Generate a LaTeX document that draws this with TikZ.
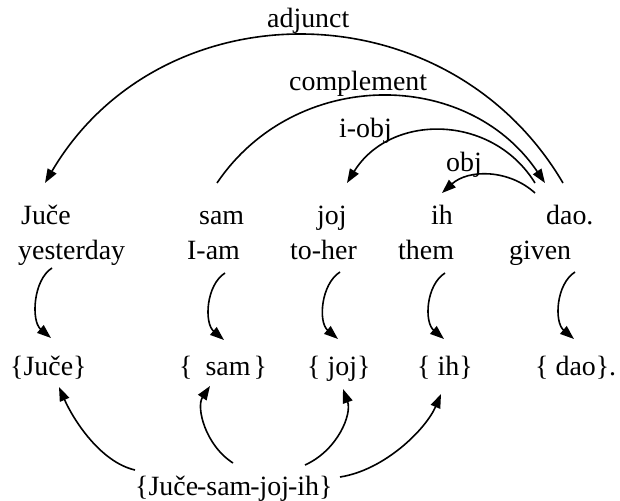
\documentclass[tikz,border=0pt]{standalone}
\usepackage{fontspec}
\setmainfont{Liberation Serif}
\usetikzlibrary{arrows.meta}
\begin{document}
\begin{tikzpicture}[x=1bp,y=-1bp,
  lbl/.style={anchor=base west, inner sep=0pt, font=\fontsize{28}{34}\selectfont},
  arr/.style={line width=1.6bp, -{Triangle[length=14bp,width=10bp]}},
  drop/.style={arr},
]
\useasboundingbox (0,0) rectangle (620,501);
% relation labels
\node[lbl] (ladj) at (267,28) {adjunct};
\node[lbl] (lcomp) at (289,91) {complement};
\node[lbl] (liobj) at (339,138) {i-obj};
\node[lbl] (lobj) at (446,172) {obj};
% words
\node[lbl] (w1) at (21,225) {Juče};
\node[lbl] (w2) at (199,225) {sam};
\node[lbl] (w3) at (317,225) {joj};
\node[lbl] (w4) at (431,225) {ih};
\node[lbl] (w5) at (546,225) {dao.};
% glosses
\node[lbl] (g1) at (18,259) {yesterday};
\node[lbl] (g2) at (187,259) {I-am};
\node[lbl] (g3) at (290,259) {to-her};
\node[lbl] (g4) at (398,259) {them};
\node[lbl] (g5) at (509,259) {given};
% sets
\node[lbl] (b1) at (10,375) {\{Juče\}};
\node[lbl] (b2) at (179,375) {\{\hspace{13bp}sam\hspace{3bp}\}};
\node[lbl] (b3) at (307,375) {\{ joj\}};
\node[lbl] (b4) at (417,375) {\{ ih\}};
\node[lbl] (b5) at (535,375) {\{ dao\}.};
\node[lbl] (bb) at (135,495) {\{Juče\kern-1bp-sam\kern-1bp-joj\kern-1bp-ih\}};
% arc end points
\coordinate (adjS) at (563,183);
\coordinate (adjE) at (45,183);
\coordinate (compS) at (217,183);
\coordinate (compE) at (545,183);
\coordinate (iobjS) at (535,183);
\coordinate (iobjE) at (347,183);
\coordinate (objS) at (535,193);
\coordinate (objE) at (442,193);
\draw[arr] (adjS) to[bend right=59.5, looseness=1.13] (adjE);
\draw[arr] (compS) to[bend left=55.9, looseness=1.09] (compE);
\draw[arr] (iobjS) to[bend right=58.3, looseness=1.12] (iobjE);
\draw[arr] (objS) to[bend right=42.3, looseness=0.98] (objE);
% drops from glosses to sets
\coordinate (d1s) at (52,268); \coordinate (d1e) at (51,338);
\coordinate (d2s) at (225,273); \coordinate (d2e) at (224,340);
\coordinate (d3s) at (340,272); \coordinate (d3e) at (338,339);
\coordinate (d4s) at (445,273); \coordinate (d4e) at (444,339);
\coordinate (d5s) at (575,272); \coordinate (d5e) at (574,339);
\foreach \i in {1,...,5}{
  \draw[drop] (d\i s) .. controls +(-19,12) and +(-20,-17) .. (d\i e);
}
% arrows from the compound set
\coordinate (u1s) at (135,470); \coordinate (u1e) at (59,387);
\coordinate (u2s) at (233,463); \coordinate (u2e) at (210,386);
\coordinate (u3s) at (305,465); \coordinate (u3e) at (343,389);
\coordinate (u4s) at (340,477); \coordinate (u4e) at (441,394);
\draw[arr] (u1s) .. controls +(-35,-8) and +(14,32) .. (u1e);
\draw[arr] (u2s) .. controls +(-28,-18) and +(-14,21) .. (u2e);
\draw[arr] (u3s) .. controls +(33,-15) and +(9,25) .. (u3e);
\draw[arr] (u4s) .. controls +(45,-7) and +(-15,35) .. (u4e);
\end{tikzpicture}
\end{document}
